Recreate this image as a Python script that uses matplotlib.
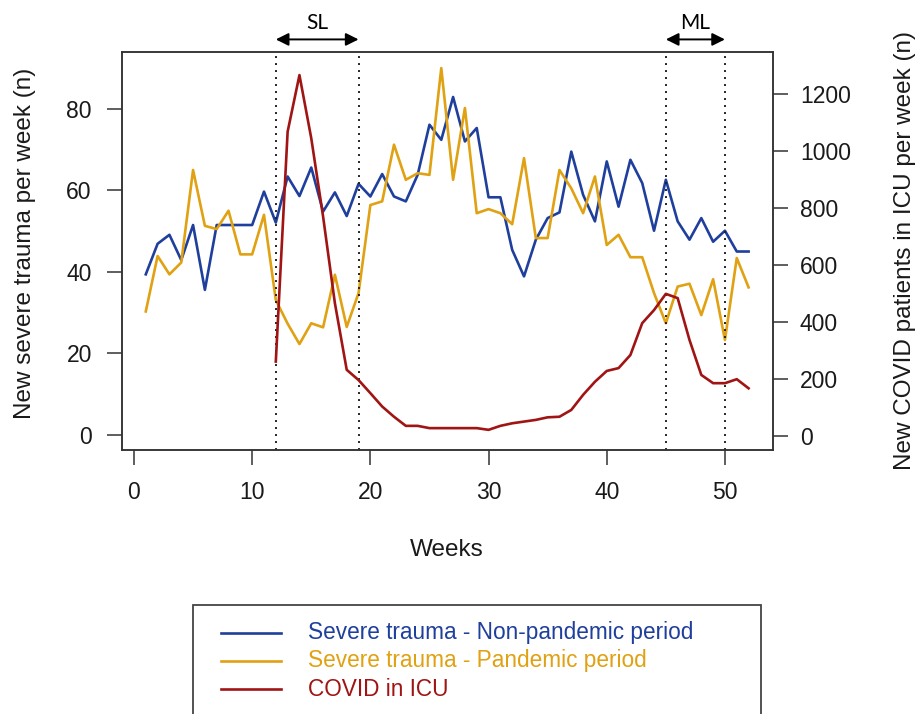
import numpy as np
import matplotlib
matplotlib.use('Agg')
import matplotlib.pyplot as plt
from matplotlib.patches import Rectangle
from matplotlib.lines import Line2D

plt.rcParams['font.family'] = ['Liberation Sans', 'DejaVu Sans']

# weekly counts
weeks = np.arange(1, 53)
non_pandemic = [39.4, 46.9, 49.1, 42.9, 51.5, 35.6, 51.5, 51.5, 51.5, 51.5,
                59.7, 52.1, 63.4, 58.6, 65.6, 54.8, 59.5, 53.7, 61.6, 58.5,
                64.0, 58.5, 57.3, 63.8, 76.1, 72.4, 82.9, 72.0, 75.3, 58.3,
                58.3, 45.4, 38.9, 47.9, 53.2, 54.6, 69.5, 58.9, 52.4, 67.1,
                56.0, 67.5, 61.8, 50.1, 62.6, 52.4, 47.9, 53.2, 47.4, 50.1,
                45.0, 45.0]
pandemic = [30.3, 43.9, 39.4, 42.3, 65.0, 51.3, 50.5, 55.0, 44.3, 44.3,
            54.0, 33.1, 27.3, 22.3, 27.4, 26.4, 39.3, 26.5, 34.8, 56.4,
            57.3, 71.2, 62.6, 64.2, 63.8, 90.0, 62.6, 80.2, 54.4, 55.4,
            54.4, 51.7, 67.9, 48.3, 48.3, 65.0, 60.5, 54.4, 63.4, 46.6,
            49.1, 43.6, 43.6, 34.8, 27.4, 36.4, 37.1, 29.4, 38.2, 23.3,
            43.4, 36.2]
covid_weeks = np.arange(12, 53)
covid_icu = [260, 1068, 1267, 1045, 770, 465, 231, 195, 149, 102,
             66, 34, 34, 26, 26, 26, 26, 26, 20, 34,
             43, 49, 55, 64, 66, 90, 143, 189, 227, 237,
             283, 395, 441, 498, 483, 336, 213, 184, 184, 198,
             166]

# lockdown periods (SL = strict, ML = moderate)
periods = [('SL', 12, 19), ('ML', 45, 50)]

labels = ['Severe trauma - Non-pandemic period',
          'Severe trauma - Pandemic period',
          'COVID in ICU']
colors = ['#1f3f9c', '#e0a112', '#a01414']

fig = plt.figure(figsize=(9.19, 7.14), dpi=100)
ax = fig.add_axes([0.1324, 0.3697, 0.7084, 0.5578])
ax2 = ax.twinx()

ax.plot(weeks, non_pandemic, color=colors[0], lw=1.9)
ax.plot(weeks, pandemic, color=colors[1], lw=1.9)
ax2.plot(covid_weeks, covid_icu, color=colors[2], lw=1.9)

ax.set_xlim(-1.04, 54.04)
ax.set_ylim(-3.7, 94.0)
ax2.set_ylim(-51, 1349)

ax.set_xticks([0, 10, 20, 30, 40, 50])
ax.set_yticks([0, 20, 40, 60, 80])
ax2.set_yticks([0, 200, 400, 600, 800, 1000, 1200])

for a in (ax, ax2):
    for s in a.spines.values():
        s.set_color('#333333')
        s.set_linewidth(1.1)
ax.tick_params(direction='out', length=10.5, width=1.1, color='#333333',
               labelsize=16.5, labelcolor='#1a1a1a')
ax.tick_params(axis='y', pad=11)
ax.tick_params(axis='x', pad=12)
ax2.tick_params(direction='out', length=10.5, width=1.1, color='#333333',
                labelsize=16.5, labelcolor='#1a1a1a', pad=9)

ax.text(-0.1485, 0.52, 'New severe trauma per week (n)', transform=ax.transAxes,
        rotation=90, ha='center', va='center', fontsize=17.5, color='#1a1a1a')
ax.text(1.2032, 0.5, 'New COVID patients in ICU per week (n)', transform=ax.transAxes,
        rotation=90, ha='center', va='center', fontsize=17.5, color='#1a1a1a')
ax.text(0.5, -0.251, 'Weeks', transform=ax.transAxes,
        ha='center', va='center', fontsize=17.5, color='#1a1a1a')

# dotted lockdown markers and arrows on top
for name, start, end in periods:
    for x in (start, end):
        ax.axvline(x, color='#222222', lw=1.4, ls=(0, (1, 2.6)))
    ax.annotate('', xy=(start, 1.031), xytext=(end, 1.031),
                xycoords=('data', 'axes fraction'), annotation_clip=False,
                arrowprops=dict(arrowstyle='<|-|>', color='black', lw=1.4,
                                mutation_scale=19, shrinkA=0, shrinkB=0))
    ax.text((start + end) / 2, 1.072, name, transform=ax.get_xaxis_transform(),
            ha='center', va='center', fontsize=15, family=['Lato', 'DejaVu Sans'])

# legend box below the plot (runs off the bottom edge like the original)
W, H = 919.0, 714.0
fig.patches.append(Rectangle((192.7 / W, 1 - 740 / H), (760.7 - 192.7) / W, (740 - 605) / H,
                             transform=fig.transFigure, fill=False,
                             edgecolor='#444444', lw=1.3))
rows_y = [632.7, 661.0, 689.0]
for lab, col, y in zip(labels, colors, rows_y):
    fig.lines.append(Line2D([220.7 / W, 280.7 / W], [1 - y / H, 1 - y / H],
                            transform=fig.transFigure, color=col, lw=1.9))
    fig.text(308.3 / W, 1 - y / H, lab, color=col, fontsize=16.3,
             ha='left', va='center')

fig.savefig('out.png', dpi=100)
